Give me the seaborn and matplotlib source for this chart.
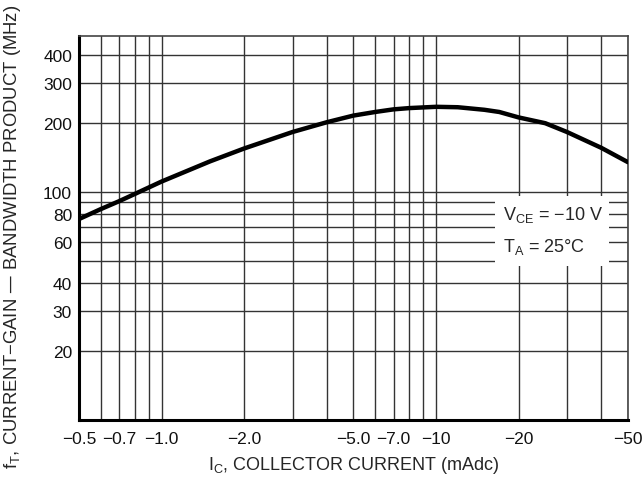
import matplotlib
matplotlib.use('Agg')
import matplotlib.pyplot as plt
import matplotlib.patches as patches
import seaborn as sns
import numpy as np
import pandas as pd

# valores (fT x IC)
ic_ma = [0.5, 0.6, 0.7, 0.8, 1.0, 1.5, 2.0, 3.0, 4.0, 5.0, 6.0, 7.0, 8.0,
         10, 12, 15, 17, 20, 25, 30, 40, 50]
ft_mhz = [76, 84, 91, 98, 111, 136, 155, 183, 202, 216, 224, 230, 233,
          236, 235, 229, 224, 212, 200, 183, 156, 135]

x_grid = [0.5, 0.6, 0.7, 0.8, 0.9, 1, 2, 3, 4, 5, 6, 7, 8, 9, 10, 20, 30, 40, 50]
x_labels = {0.5: '−0.5', 0.7: '−0.7', 1: '−1.0', 2: '−2.0', 5: '−5.0',
            7: '−7.0', 10: '−10', 20: '−20', 50: '−50'}
y_grid = [20, 30, 40, 50, 60, 70, 80, 90, 100, 200, 300, 400]
y_labels = {20: '20', 30: '30', 40: '40', 60: '60', 80: '80',
            100: '100', 200: '200', 300: '300', 400: '400'}

sns.set_style('white')
plt.rcParams['font.family'] = ['Liberation Sans', 'DejaVu Sans']
plt.rcParams['mathtext.default'] = 'regular'

df = pd.DataFrame({'ic': ic_ma, 'ft': ft_mhz})

fig = plt.figure(figsize=(6.42, 4.85), dpi=100)
ax = fig.add_axes([0.123, 0.132, 0.855, 0.792])

ax.set_xscale('log')
ax.set_yscale('log')
ax.set_xlim(0.5, 50)
ax.set_ylim(10, 483)

sns.lineplot(data=df, x='ic', y='ft', color='black', linewidth=3.2, ax=ax, zorder=3)

ax.set_xticks(x_grid)
ax.set_xticklabels([x_labels.get(v, '') for v in x_grid])
ax.set_yticks(y_grid)
ax.set_yticklabels([y_labels.get(v, '') for v in y_grid])
ax.minorticks_off()
ax.tick_params(axis='both', length=0, labelsize=12.5, colors='#111111')
ax.tick_params(axis='x', pad=8)
ax.tick_params(axis='y', pad=5)

ax.set_axisbelow(True)
ax.grid(True, color='#333333', linewidth=1.0)

for side in ['top', 'right']:
    ax.spines[side].set_linewidth(1.2)
    ax.spines[side].set_color('#444444')
for side in ['left', 'bottom']:
    ax.spines[side].set_linewidth(2.2)
    ax.spines[side].set_color('black')

# caixa branca com as condições de teste
box = patches.Rectangle((0.758, 0.401), 0.207, 0.182, transform=ax.transAxes,
                        facecolor='white', edgecolor='none', zorder=2)
ax.add_patch(box)
ax.text(0.772, 0.536, '$V_{CE}$ = −10 V', transform=ax.transAxes, fontsize=13,
        va='center', ha='left', zorder=4)
ax.text(0.772, 0.453, '$T_{A}$ = 25°C', transform=ax.transAxes, fontsize=13,
        va='center', ha='left', zorder=4)

ax.set_xlabel('$I_{C}$, COLLECTOR CURRENT (mAdc)', fontsize=13, labelpad=6)
ax.set_ylabel('$f_{T}$, CURRENT−GAIN — BANDWIDTH PRODUCT (MHz)', fontsize=13.3)
ax.yaxis.set_label_coords(-0.102, 0.48)

fig.savefig('out.png', dpi=100)
